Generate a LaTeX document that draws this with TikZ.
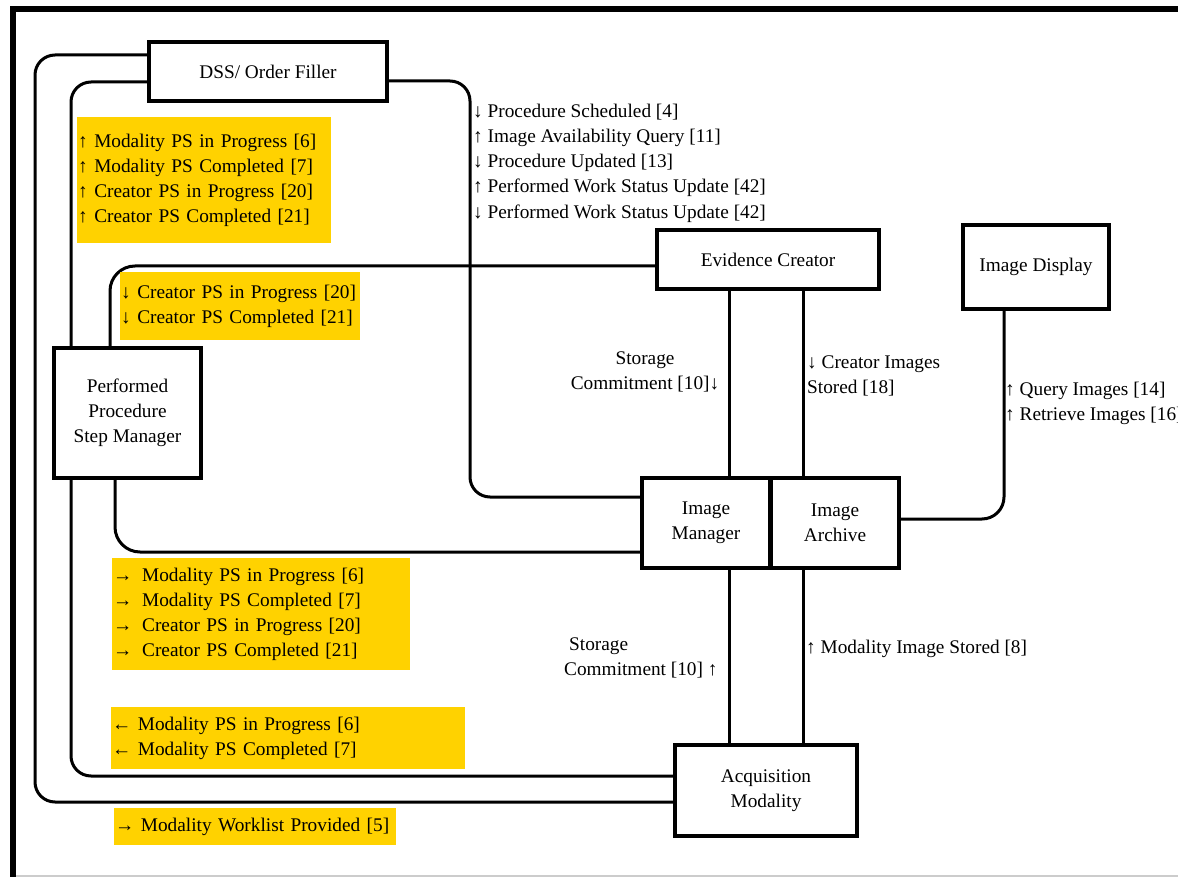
\documentclass[tikz,border=0pt]{standalone}
\usepackage{fontspec}
\setmainfont{Liberation Serif}
\usetikzlibrary{backgrounds}
\definecolor{notebg}{RGB}{255,210,0}
\begin{document}
\begin{tikzpicture}
[x=1pt,y=-1pt,
font=\fontsize{19.3}{25.2}\selectfont,
actor/.style={draw,fill=white,line width=4pt,inner sep=0pt,align=center},
link/.style={draw,line width=3pt},
note/.style={fill=notebg,anchor=north west,inner xsep=1pt,inner ysep=0pt,align=left},
msg/.style={inner sep=0pt}]
\useasboundingbox (0,0) rectangle (1178,877);
\draw[line width=6pt] (13,877) -- (13,9) -- (1178,9);
\draw[black!20,line width=1.5pt] (16,876) -- (1178,876);
% actors
\node[actor,minimum width=238,minimum height=59] (dss) at (268,71.5) {DSS/ Order Filler};
\node[actor,minimum width=222,minimum height=59] (evc) at (768,259.5) {Evidence Creator};
\node[actor,minimum width=146,minimum height=84] (disp) at (1036,267) {Image Display};
\node[actor,minimum width=147,minimum height=130] (ppsm) at (127.5,413) {Performed\\Procedure\\Step Manager};
\node[actor,minimum width=128,minimum height=90] (imgr) at (706,523) {Image\\Manager};
\node[actor,minimum width=128,minimum height=90] (iarc) at (835,523) {Image\\Archive};
\node[actor,minimum width=182,minimum height=91] (acq) at (766,790.5) {Acquisition\\Modality};
% transactions
\begin{pgfonlayer}{background}
\draw[link,rounded corners=20] (dss.west |- 0,55) -| (35,400) |- (acq.west |- 0,802);
\draw[link,rounded corners=20] (dss.west |- 0,82) -| (71,400) |- (acq.west |- 0,776);
\draw[link,rounded corners=20] (dss.east |- 0,81) -| (470,300) |- (imgr.west |- 0,497);
\draw[link,rounded corners=25] (ppsm.north -| 110,0) |- (evc.west |- 0,266);
\draw[link,rounded corners=25] (ppsm.south -| 115,0) |- (imgr.west |- 0,552);
\draw[link] (evc.south -| 729,0) -- (imgr.north -| 729,0);
\draw[link] (evc.south -| 803,0) -- (iarc.north -| 803,0);
\draw[link] (imgr.south -| 729,0) -- (acq.north -| 729,0);
\draw[link] (iarc.south -| 803,0) -- (acq.north -| 803,0);
\draw[link,rounded corners=22] (iarc.east |- 0,519) -| (disp.south -| 1004,0);
\end{pgfonlayer}
% messages
\node[note,text width=252,minimum height=126] (dssup) at (77,117)
{↑ Modality PS in Progress [6]\\↑ Modality PS Completed [7]\\↑ Creator PS in Progress [20]\\↑ Creator PS Completed [21]};
\node[note,text width=238,minimum height=68] (evcdown) at (120,272)
{↓ Creator PS in Progress [20]\\↓ Creator PS Completed [21]};
\node[note,text width=296,minimum height=112] (imgrright) at (112,558)
{→\hspace{0.5em}Modality PS in Progress [6]\\→\hspace{0.5em}Modality PS Completed [7]\\→\hspace{0.5em}Creator PS in Progress [20]\\→\hspace{0.5em}Creator PS Completed [21]};
\node[note,text width=352,minimum height=62] (acqleft) at (111,707)
{← Modality PS in Progress [6]\\← Modality PS Completed [7]};
\node[note,text width=280,minimum height=37] (acqwl) at (114,808)
{→ Modality Worklist Provided [5]};
\node[msg,anchor=west,align=left] (dssmsg) at (473,163)
{↓ Procedure Scheduled [4]\\↑ Image Availability Query [11]\\↓ Procedure Updated [13]\\↑ Performed Work Status Update [42]\\↓ Performed Work Status Update [42]};
\node[msg,align=center] (evcsc) at (645,372) {Storage\\Commitment [10]↓};
\node[msg,anchor=west,align=left] (evcst) at (807,376) {↓ Creator Images\\Stored [18]};
\node[msg,anchor=west,align=left] (dispq) at (1005,403) {↑ Query Images [14]\\↑ Retrieve Images [16]};
\node[msg,anchor=west,align=left] (acqsc) at (564,658) {\hspace{5pt}Storage\\Commitment [10] ↑};
\node[msg,anchor=west] (acqst) at (806,649) {↑ Modality Image Stored [8]};
\end{tikzpicture}
\end{document}
